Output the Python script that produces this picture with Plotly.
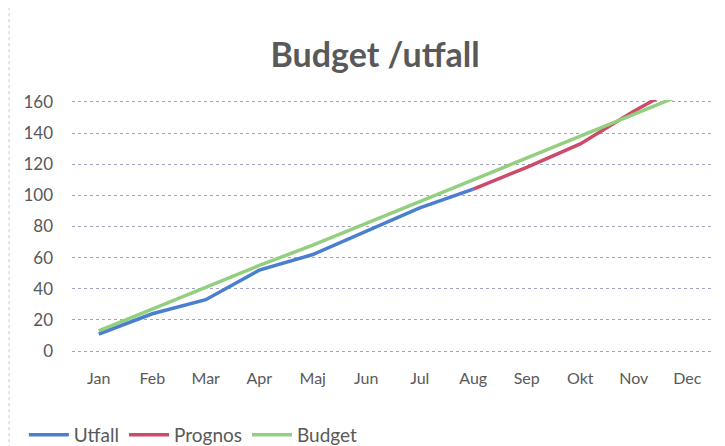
import plotly.graph_objects as go

maaneder = ["Jan", "Feb", "Mar", "Apr", "Maj", "Jun", "Jul", "Aug", "Sep", "Okt", "Nov", "Dec"]
utfall = [11, 24, 33, 52, 62, 77, 92, 104, None, None, None, None]
prognos = [None, None, None, None, None, None, None, 104, 118, 133, 154, 173]
budget = [13, 27, 41, 55, 68, 82, 96, 110, 124, 138, 152, 166]

fig = go.Figure()
fig.add_trace(go.Scatter(x=maaneder, y=utfall, mode="lines", name="Utfall",
                         line=dict(color="#4a7fd0", width=3.5)))
fig.add_trace(go.Scatter(x=maaneder, y=prognos, mode="lines", name="Prognos",
                         line=dict(color="#cc4a6a", width=3.5)))
fig.add_trace(go.Scatter(x=maaneder, y=budget, mode="lines", name="Budget",
                         line=dict(color="#93cf7f", width=3.5)))

# siden får 8 px marg fra <body>, så figuren gjøres tilsvarende mindre
fig.update_layout(
    width=717, height=438,
    margin=dict(l=64, r=11, t=92, b=93, autoexpand=False),
    paper_bgcolor="white", plot_bgcolor="white",
    font=dict(family="Lato, Open Sans, sans-serif", color="#595959", size=16),
    title=dict(text="<b>Budget /utfall</b>", x=0.512, xanchor="center", y=0.893, yanchor="middle",
               font=dict(size=34, color="#595959")),
    showlegend=True,
    legend=dict(orientation="h", x=-0.075, xanchor="left", y=-0.324, yanchor="middle",
                font=dict(size=19, color="#595959"), itemwidth=40, tracegroupgap=0),
)
fig.update_xaxes(type="category", range=[-0.5, 11.5], showgrid=False, showline=False,
                 ticks="", ticklabelstandoff=14, tickfont=dict(size=16))
fig.update_yaxes(range=[-1.2, 161.2], dtick=20, showgrid=True, gridcolor="#9ea4c0", griddash="dot",
                 gridwidth=1, zeroline=False, showline=False, ticks="", ticklabelstandoff=18,
                 tickfont=dict(size=17))
fig.add_shape(type="line", xref="paper", yref="paper", x0=-0.098, x1=-0.098, y0=-0.4, y1=1.4,
              line=dict(color="#c8c8c8", width=1, dash="dot"))

fig.write_html("out.html")
